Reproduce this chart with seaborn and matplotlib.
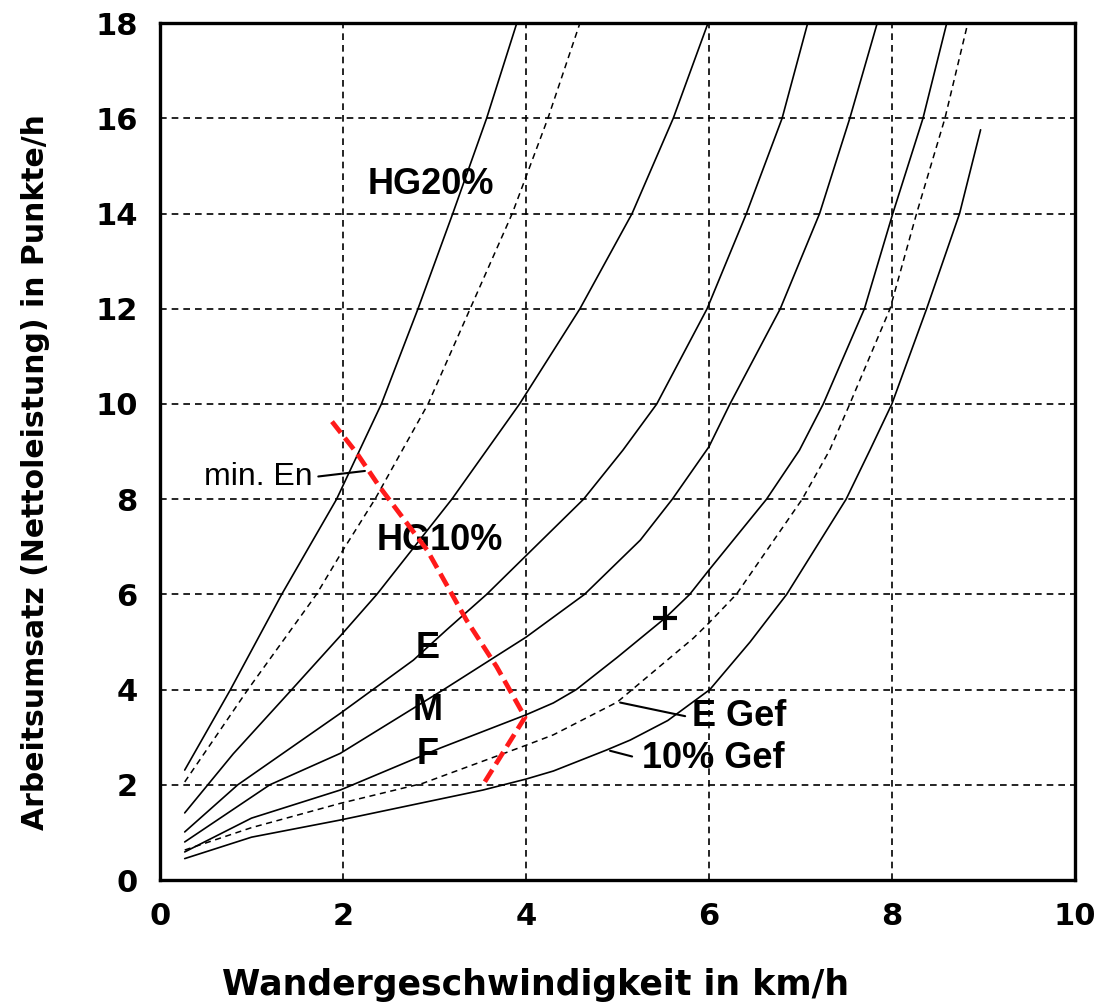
import matplotlib
matplotlib.use("Agg")
import matplotlib.pyplot as plt
import seaborn as sns

# ---------------- data ----------------
hg20_x = [0.27, 0.77, 1.33, 1.93, 2.42, 2.82, 3.20, 3.57, 3.90]
hg20_y = [2.31, 4.00, 6.00, 8.00, 10.0, 12.0, 14.0, 16.0, 18.0]

hg20g_x = [0.27, 0.96, 1.71, 2.00, 2.35, 2.93, 3.39, 3.85, 4.24, 4.59]
hg20g_y = [2.06, 4.00, 6.00, 6.93, 8.00, 10.0, 12.0, 14.0, 16.0, 18.0]

hg10_x = [0.27, 0.80, 1.44, 2.00, 2.37, 3.19, 3.93, 4.59, 5.16, 5.61, 5.99]
hg10_y = [1.41, 2.65, 4.00, 5.19, 6.00, 8.00, 10.0, 12.0, 14.0, 16.0, 18.0]

e_x = [0.27, 0.85, 1.97, 2.77, 3.13, 3.57, 4.63, 5.06, 5.43, 5.98, 6.41, 6.80, 7.08]
e_y = [1.01, 2.00, 3.50, 4.62, 5.25, 6.00, 8.00, 9.03, 10.0, 12.0, 14.0, 16.0, 18.0]

m_x = [0.27, 1.20, 1.97, 3.10, 4.00, 4.64, 5.25, 5.60, 6.00, 6.23, 6.78, 7.21, 7.54, 7.84]
m_y = [0.80, 2.00, 2.66, 4.00, 5.10, 6.00, 7.14, 8.00, 9.10, 10.0, 12.0, 14.0, 16.0, 18.0]

f_x = [0.27, 1.00, 1.97, 3.06, 4.00, 4.30, 4.55, 5.00, 5.52, 5.79, 6.00, 6.63, 6.99, 7.25, 7.70, 8.01, 8.34, 8.60]
f_y = [0.59, 1.30, 1.89, 2.77, 3.47, 3.72, 4.00, 4.68, 5.50, 6.00, 6.51, 8.00, 9.03, 10.0, 12.0, 14.0, 16.0, 18.0]

egef_x = [0.27, 1.00, 1.97, 2.87, 4.00, 4.30, 5.00, 5.83, 6.00, 6.30, 7.02, 7.32, 7.54, 7.98, 8.27, 8.58, 8.83]
egef_y = [0.63, 1.10, 1.61, 2.03, 2.83, 3.05, 3.74, 5.08, 5.40, 6.00, 8.00, 9.03, 10.0, 12.0, 14.0, 16.0, 18.0]

g10_x = [0.27, 1.00, 1.97, 3.53, 4.00, 4.30, 4.88, 5.14, 5.55, 6.01, 6.45, 6.85, 7.50, 7.76, 8.00, 8.38, 8.74, 8.97]
g10_y = [0.45, 0.90, 1.26, 1.89, 2.12, 2.29, 2.73, 2.94, 3.35, 4.00, 5.00, 6.00, 8.00, 9.03, 10.0, 12.0, 14.0, 15.76]

red_x = [1.88, 2.15, 2.40, 2.92, 3.35, 3.68, 3.99, 3.53]
red_y = [9.63, 8.97, 8.26, 6.93, 5.46, 4.48, 3.42, 2.00]

plus_x = [5.52]
plus_y = [5.50]

x_ticks = [0, 2, 4, 6, 8, 10]
y_ticks = [0, 2, 4, 6, 8, 10, 12, 14, 16, 18]

x_label = "Wandergeschwindigkeit in km/h"
y_label = "Arbeitsumsatz (Nettoleistung) in Punkte/h"

# ---------------- style ----------------
sns.set_theme(style="white")
plt.rcParams['font.family'] = ['DejaVu Sans']
plt.rcParams['font.weight'] = 'bold'
LAB_FONT = ['Liberation Sans', 'DejaVu Sans']

fig, ax = plt.subplots(figsize=(10.99, 10.07), dpi=100)
fig.subplots_adjust(left=0.1456, right=0.978, bottom=0.1261, top=0.977)

solid = dict(color='black', linewidth=1.2, estimator=None, sort=False)
dashed = dict(color='black', linewidth=1.1, estimator=None, sort=False,
              linestyle=(0, (4, 3)))

for xs, ys in [(hg20_x, hg20_y), (hg10_x, hg10_y), (e_x, e_y),
               (m_x, m_y), (f_x, f_y), (g10_x, g10_y)]:
    sns.lineplot(x=xs, y=ys, ax=ax, **solid)
for xs, ys in [(hg20g_x, hg20g_y), (egef_x, egef_y)]:
    sns.lineplot(x=xs, y=ys, ax=ax, **dashed)

sns.lineplot(x=red_x, y=red_y, ax=ax, color='#ff1a1a', linewidth=3.4,
             linestyle=(0, (3.0, 1.4)), estimator=None, sort=False, zorder=5)

sns.scatterplot(x=plus_x, y=plus_y, ax=ax, marker='+', s=280,
                color='black', linewidth=3, zorder=6)

ax.set_xlim(0, 10)
ax.set_ylim(0, 18)
ax.set_xticks(x_ticks)
ax.set_yticks(y_ticks)
ax.grid(True, color='black', linestyle=(0, (4, 3)), linewidth=1.2)
for s in ax.spines.values():
    s.set_visible(True)
    s.set_color('black')
    s.set_linewidth(2.4)
ax.tick_params(direction='in', length=10, width=2, pad=16, labelsize=22,
               colors='black')
for lab in ax.get_xticklabels() + ax.get_yticklabels():
    lab.set_fontweight('bold')

ax.set_xlabel(x_label, fontsize=25, fontweight='bold', color='black')
ax.xaxis.set_label_coords(0.41, -0.1225)
ax.xaxis.label.set_va('center')
ax.set_ylabel(y_label, fontsize=21.5, fontweight='bold', color='black')
ax.yaxis.set_label_coords(-0.1366, 0.476)
ax.yaxis.label.set_va('center')

lab_kw = dict(fontsize=26, fontweight='bold', ha='center', va='center',
              color='black', family=LAB_FONT)
ax.text(2.96, 14.62, "HG20%", **lab_kw)
ax.text(3.06, 7.14, "HG10%", **lab_kw)
ax.text(2.92, 4.87, "E", **lab_kw)
ax.text(2.92, 3.57, "M", **lab_kw)
ax.text(2.92, 2.63, "F", **lab_kw)

ax.text(1.67, 8.47, "min. En", fontsize=23, fontweight='normal',
        ha='right', va='center', color='black', family=LAB_FONT)
ax.annotate('', xy=(2.27, 8.6), xytext=(1.70, 8.47),
            arrowprops=dict(arrowstyle='-', color='black', lw=1.5))

ax.text(5.81, 3.43, "E Gef", fontsize=26, fontweight='bold', ha='left',
        va='center', color='black', family=LAB_FONT)
ax.annotate('', xy=(5.0, 3.74), xytext=(5.77, 3.43),
            arrowprops=dict(arrowstyle='-', color='black', lw=1.5))

ax.text(5.27, 2.56, "10% Gef", fontsize=26, fontweight='bold', ha='left',
        va='center', color='black', family=LAB_FONT)
ax.annotate('', xy=(4.89, 2.73), xytext=(5.19, 2.58),
            arrowprops=dict(arrowstyle='-', color='black', lw=1.5))

fig.savefig("out.png", dpi=100, facecolor='white')
